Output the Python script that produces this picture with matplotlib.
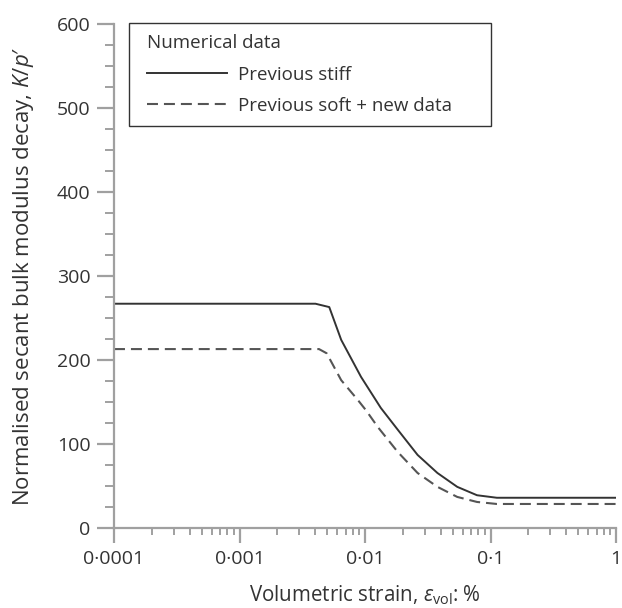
import matplotlib
matplotlib.use("Agg")
import matplotlib.pyplot as plt
from matplotlib.patches import Rectangle
from matplotlib.ticker import FixedLocator, FuncFormatter, MultipleLocator

# ---- data ----
stiff_strain = [0.0001, 0.00403, 0.00519, 0.00646, 0.00929, 0.01336, 0.01824,
                0.02624, 0.03776, 0.0543, 0.0781, 0.1124, 1.0]
stiff_k = [267, 267, 263, 224, 180, 143, 117, 87, 65.5, 49, 39, 36, 36]

soft_strain = [0.0001, 0.0043, 0.00495, 0.00646, 0.00881, 0.0102, 0.01268,
               0.01824, 0.02624, 0.03776, 0.0543, 0.0781, 0.1124, 1.0]
soft_k = [213, 213, 208, 176, 152, 140, 120, 90.5, 65.5, 49, 37, 31, 28.6, 28.6]

x_ticks = [0.0001, 0.001, 0.01, 0.1, 1]
x_tick_labels = ["0·0001", "0·001", "0·01", "0·1", "1"]
y_ticks = [0, 100, 200, 300, 400, 500, 600]

legend_title = "Numerical data"
label_stiff = "Previous stiff"
label_soft = "Previous soft + new data"

# ---- style ----
plt.rcParams['font.family'] = ['Open Sans', 'DejaVu Sans']
plt.rcParams['mathtext.fontset'] = 'custom'
plt.rcParams['mathtext.rm'] = 'Open Sans'
plt.rcParams['mathtext.it'] = 'Open Sans:italic'
plt.rcParams['lines.scale_dashes'] = False

FS_TICK = 14
FS_XLAB = 14.8
FS_YLAB = 16
FS_LEG = 13.5
axis_col = '#a0a0a0'
text_col = '#333333'

W, H = 622, 608
fig = plt.figure(figsize=(W / 100, H / 100), dpi=100)
ax_l, ax_r, ax_t, ax_b = 114, 616, 24, 528
ax = fig.add_axes([ax_l / W, (H - ax_b) / H, (ax_r - ax_l) / W, (ax_b - ax_t) / H])

ax.plot(stiff_strain, stiff_k, color='#333333', lw=1.4, label=label_stiff,
        solid_joinstyle='round')
ax.plot(soft_strain, soft_k, color='#555555', lw=1.5, dashes=(7.9, 4.3),
        label=label_soft)

ax.set_xscale('log')
ax.set_xlim(0.0001, 1)
ax.set_ylim(0, 600)

ax.xaxis.set_major_locator(FixedLocator(x_ticks))
ax.xaxis.set_major_formatter(FuncFormatter(
    lambda v, p: x_tick_labels[x_ticks.index(min(x_ticks, key=lambda t: abs(t - v)))]))
minors = [m * 10.0 ** e for e in range(-4, 0) for m in range(2, 10)]
ax.xaxis.set_minor_locator(FixedLocator(minors))
ax.xaxis.set_minor_formatter(FuncFormatter(lambda v, p: ""))

ax.yaxis.set_major_locator(FixedLocator(y_ticks))
ax.yaxis.set_minor_locator(MultipleLocator(25))

for s in ['top', 'right']:
    ax.spines[s].set_visible(False)
for s in ['left', 'bottom']:
    ax.spines[s].set_color(axis_col)
    ax.spines[s].set_linewidth(1.6)

ax.tick_params(axis='x', which='major', direction='out', length=10.8, width=1.6,
               color=axis_col, labelsize=FS_TICK, labelcolor=text_col, pad=5)
ax.tick_params(axis='x', which='minor', direction='out', length=5, width=1.4,
               color=axis_col)
ax.tick_params(axis='y', which='major', direction='out', length=12, width=1.6,
               color=axis_col, labelsize=FS_TICK, labelcolor=text_col, pad=5)
ax.tick_params(axis='y', which='minor', direction='out', length=6.5, width=1.4,
               color=axis_col)

ax.set_ylabel("Normalised secant bulk modulus decay, $K/p$′", fontsize=FS_YLAB,
              color=text_col, labelpad=15)
ax.set_xlabel(r"Volumetric strain, $\varepsilon_{\mathrm{vol}}$: %", fontsize=FS_XLAB,
              color=text_col, labelpad=11)

# legend frame (layout box) and legend contents
frame = Rectangle((129 / W, (H - 126) / H), (491 - 129) / W, (126 - 23) / H,
                  transform=fig.transFigure, fill=True, facecolor='white',
                  edgecolor='#333333', lw=1.0, zorder=5, clip_on=False)
ax.add_patch(frame)
leg = ax.legend(title=legend_title, loc='upper left',
                bbox_to_anchor=(147 / W, (H - 34) / H), bbox_transform=fig.transFigure,
                fontsize=FS_LEG, title_fontsize=FS_LEG, frameon=False,
                handlelength=4.27, handletextpad=0.59, labelspacing=0.72,
                borderpad=0, borderaxespad=0, alignment='left')
leg.set_zorder(6)
for t in leg.get_texts():
    t.set_color(text_col)
leg.get_title().set_color(text_col)

fig.savefig("out.png", dpi=100)
